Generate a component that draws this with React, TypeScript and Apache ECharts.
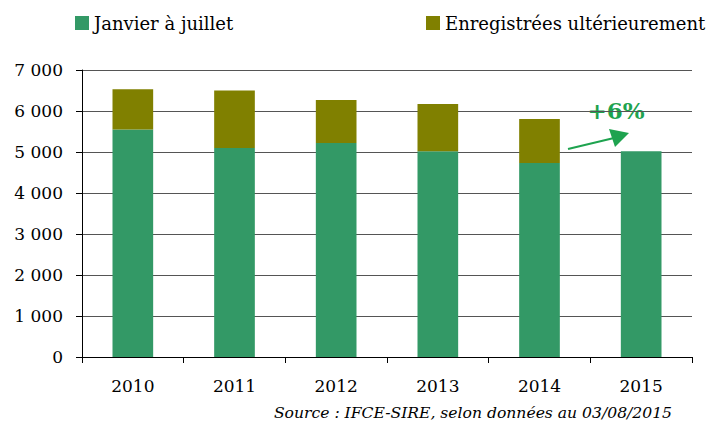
import React, { useEffect, useRef } from "react";
import * as echarts from "echarts";

const years = ["2010", "2011", "2012", "2013", "2014", "2015"];
const janJul = [5550, 5100, 5220, 5020, 4730, 5020];
const later = [980, 1400, 1050, 1150, 1075, 0];
const yTicks = [0, 1000, 2000, 3000, 4000, 5000, 6000, 7000];
const seriesNames = ["Janvier à juillet", "Enregistrées ultérieurement"];
const growthLabel = "+6%";
const sourceText = "Source : IFCE-SIRE, selon données au 03/08/2015";

const FONT = "'DejaVu Serif', 'Liberation Serif', serif";

export default function App() {
  const ref = useRef<HTMLDivElement>(null);
  useEffect(() => {
    if (!ref.current) return;
    const chart = echarts.init(ref.current, null, { renderer: "svg" });
    const legendBase = {
      top: 14,
      itemWidth: 14,
      itemHeight: 14,
      itemGap: 5,
      icon: "rect",
      textStyle: { fontFamily: FONT, fontSize: 18, color: "#000" },
      selectedMode: false,
      padding: 0,
    };
    chart.setOption({
      animation: false,
      textStyle: { fontFamily: FONT },
      legend: [
        { ...legendBase, data: [seriesNames[0]], left: 75 },
        { ...legendBase, data: [seriesNames[1]], left: 426 },
      ],
      grid: { left: 82, right: 18, top: 70, bottom: 69, containLabel: false },
      xAxis: {
        type: "category",
        data: years,
        axisLine: { lineStyle: { color: "#000", width: 1 } },
        axisTick: { show: true, length: 6, lineStyle: { color: "#000" } },
        axisLabel: { fontFamily: FONT, fontSize: 17, color: "#000", margin: 20 },
      },
      yAxis: {
        type: "value",
        min: yTicks[0],
        max: yTicks[yTicks.length - 1],
        interval: 1000,
        axisLine: { show: true, lineStyle: { color: "#000", width: 1 } },
        axisTick: { show: true, length: 6, lineStyle: { color: "#000" } },
        splitLine: { lineStyle: { color: "#555", width: 1 } },
        axisLabel: {
          fontFamily: FONT,
          fontSize: 17,
          color: "#000",
          margin: 19,
          formatter: (v: number) =>
            v >= 1000 ? `${Math.floor(v / 1000)} ${String(v % 1000).padStart(3, "0")}` : String(v),
        },
      },
      series: [
        {
          name: seriesNames[0],
          type: "bar",
          stack: "total",
          data: janJul,
          barWidth: "40%",
          itemStyle: { color: "#339966" },
        },
        {
          name: seriesNames[1],
          type: "bar",
          stack: "total",
          data: later,
          barWidth: "40%",
          itemStyle: { color: "#808000" },
        },
      ],
      graphic: [
        {
          type: "line",
          shape: { x1: 568, y1: 149, x2: 614, y2: 138 },
          style: { stroke: "#1ea34f", lineWidth: 2 },
        },
        {
          type: "polygon",
          shape: { points: [[629, 133], [609, 129], [615, 147]] },
          style: { fill: "#1ea34f" },
        },
        {
          type: "text",
          x: 616,
          y: 110,
          style: {
            text: growthLabel,
            fontFamily: FONT,
            fontSize: 23,
            fontWeight: "bold",
            fill: "#1ea34f",
            align: "center",
            verticalAlign: "middle",
          },
        },
        {
          type: "text",
          right: 38,
          top: 405,
          style: {
            text: sourceText,
            fontFamily: FONT,
            fontSize: 15.6,
            fontStyle: "italic",
            fill: "#000",
          },
        },
      ],
    });
    return () => chart.dispose();
  }, []);
  return <div ref={ref} style={{ width: 710, height: 426, position: "absolute", left: 0, top: 0 }} />;
}
